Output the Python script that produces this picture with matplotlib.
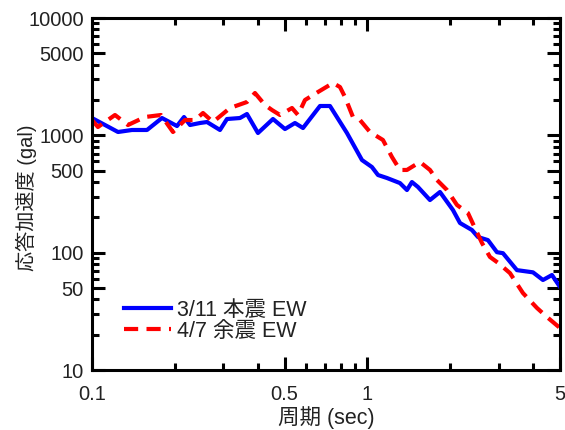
import matplotlib
matplotlib.use('Agg')
import matplotlib.pyplot as plt
from matplotlib.ticker import FixedLocator, FixedFormatter, NullFormatter

plt.rcParams['font.family'] = ['Liberation Sans', 'Noto Sans CJK JP']

# 3/11 main shock EW (period [s], response acceleration [gal])
period_main = [0.1, 0.1115, 0.1243, 0.1397, 0.1584, 0.1795, 0.2035, 0.2158, 0.2269,
               0.2466, 0.2615, 0.2915, 0.309, 0.3444, 0.3652, 0.4004, 0.4539, 0.5018,
               0.5455, 0.5834, 0.6724, 0.7309, 0.8424, 0.955, 1.038, 1.092, 1.177,
               1.312, 1.391, 1.45, 1.525, 1.686, 1.833, 2.043, 2.167, 2.395, 2.518,
               2.737, 2.951, 3.103, 3.488, 3.988, 4.335, 4.674, 5.0]
acc_main = [1405, 1225, 1068, 1111, 1111, 1405, 1201, 1433, 1225,
            1274, 1299, 1111, 1378, 1405, 1520, 1047, 1378, 1132,
            1274, 1155, 1779, 1779, 1047, 616, 537, 459, 433,
            392, 342, 400, 363, 281, 329, 231, 179, 156, 136,
            128, 101, 99, 71, 68, 58.5, 64.5, 51]

# 4/7 aftershock EW
period_after = [0.1, 0.1051, 0.1212, 0.1351, 0.1557, 0.178, 0.1888, 0.1968, 0.2176,
                0.2365, 0.2529, 0.275, 0.3169, 0.3652, 0.3905, 0.4246, 0.4502, 0.4813,
                0.5321, 0.5595, 0.5932, 0.6613, 0.7495, 0.7947, 0.8286, 0.8858, 0.9393,
                1.021, 1.138, 1.227, 1.312, 1.391, 1.551, 1.686, 1.788, 1.944, 2.113,
                2.316, 2.456, 2.604, 2.783, 2.977, 3.29, 3.667, 4.123, 4.483, 5.0]
acc_after = [1351, 1178, 1491, 1225, 1433, 1491, 1225, 1068, 1351,
             1351, 1550, 1299, 1710, 1924, 2295, 1814, 1644, 1491,
             1710, 1491, 2001, 2341, 2793, 2582, 2122, 1433, 1351,
             1068, 913, 654, 507, 507, 593, 507, 416, 342, 255,
             218, 162, 121, 92, 82, 67, 45.3, 33.8, 28.3, 22.8]

label_main = '3/11 本震 EW'
label_after = '4/7 余震 EW'

x_major = [0.1, 0.5, 1, 5]
x_minor = [0.2, 0.3, 0.4, 0.6, 0.7, 0.8, 0.9, 2, 3, 4]
y_major = [10, 50, 100, 500, 1000, 5000, 10000]
y_minor = [20, 30, 40, 60, 70, 80, 90, 200, 300, 400, 600, 700, 800, 900,
           2000, 3000, 4000, 6000, 7000, 8000, 9000]

txt = '#222222'

fig = plt.figure(figsize=(5.65, 4.3), dpi=100)
ax = fig.add_axes([0.1628, 0.1395, 0.8284, 0.8186])

ax.plot(period_main, acc_main, color='#0000ff', lw=3, label=label_main)
ax.plot(period_after, acc_after, color='#ff0000', lw=3, dashes=(3.4, 2.0),
        label=label_after)

ax.set_xscale('log')
ax.set_yscale('log')
ax.set_xlim(0.1, 5)
ax.set_ylim(10, 10000)

ax.xaxis.set_major_locator(FixedLocator(x_major))
ax.xaxis.set_major_formatter(FixedFormatter([str(v) for v in x_major]))
ax.xaxis.set_minor_locator(FixedLocator(x_minor))
ax.xaxis.set_minor_formatter(NullFormatter())
ax.yaxis.set_major_locator(FixedLocator(y_major))
ax.yaxis.set_major_formatter(FixedFormatter([str(v) for v in y_major]))
ax.yaxis.set_minor_locator(FixedLocator(y_minor))
ax.yaxis.set_minor_formatter(NullFormatter())

for s in ax.spines.values():
    s.set_linewidth(2.2)
ax.tick_params(which='both', direction='in', top=True, right=True,
               labelsize=14.5, labelcolor=txt, width=2.2)
ax.tick_params(which='major', length=9.5)
ax.tick_params(which='minor', length=5)
ax.tick_params(axis='y', which='major', pad=6)
ax.tick_params(axis='x', which='major', pad=11)

ax.set_xlabel('周期 (sec)', fontsize=15.5, color=txt, labelpad=1)
ax.set_ylabel('応答加速度 (gal)', fontsize=14.5, color=txt)
ax.yaxis.set_label_coords(-0.118, 0.49)

ax.legend(loc='center left', bbox_to_anchor=(0.068, 0.14), frameon=False,
          fontsize=15.5, handlelength=2.2, handletextpad=0.25, labelspacing=0.0,
          borderpad=0, borderaxespad=0, labelcolor=txt)

fig.savefig('out.png', dpi=100)
